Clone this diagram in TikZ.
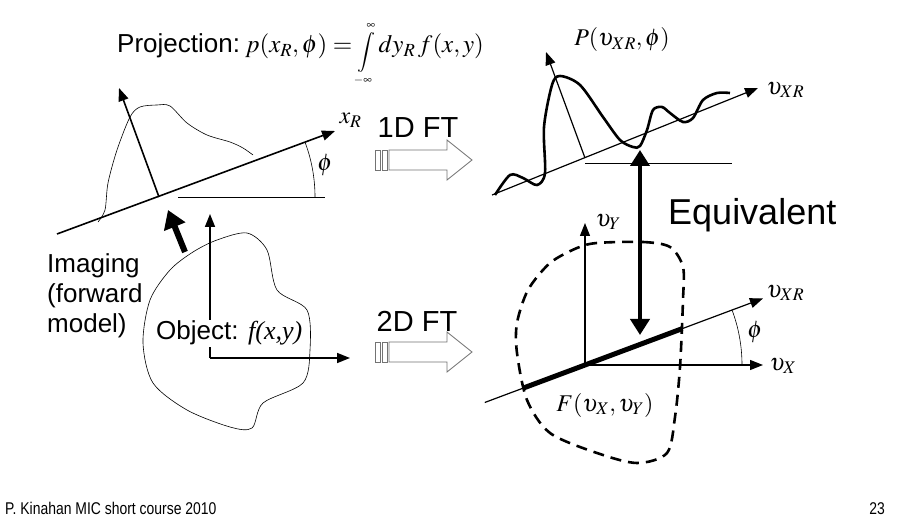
\documentclass[tikz,border=0pt]{standalone}
\usepackage{mathptmx}
\usepackage[no-math]{fontspec}
\setmainfont{Liberation Sans}
\newfontfamily\tms{Liberation Serif}
\usepackage{graphicx}
\usetikzlibrary{arrows.meta,calc}

\begin{document}
\begin{tikzpicture}[x=1pt,y=-1pt,
  txt/.style={font=\fontsize{26}{30}\selectfont},
  ftlab/.style={font=\fontsize{29}{34}\selectfont},
  mlab/.style={font=\fontsize{24}{28}\selectfont},
  axis/.style={line width=1.6pt,-{Triangle[length=13pt,width=10pt]}},
  thinaxis/.style={line width=1.2pt,-{Triangle[length=13pt,width=10pt]}},
  ftline/.style={draw=black!55,line width=0.8pt,fill=white},
  ftarrow/.pic={
    \draw[ftline] (0,-10) rectangle (5,10);
    \draw[ftline] (7,-10) rectangle (12,10);
    \draw[ftline] (14,-10) -- (72,-10) -- (72,-20) -- (97,0) -- (72,20) -- (72,10) -- (14,10) -- cycle;
  }]
  \useasboundingbox (0,0) rectangle (897,521);
  \node[txt,anchor=base west,inner sep=0pt] (proj) at (117,53) {Projection:};
  \node[font=\fontsize{25}{30}\selectfont,anchor=base west,inner sep=0pt] (eq) at (245,53)
    {$p(x_R,\phi)=\raisebox{-4pt}{\fontsize{20}{20}\selectfont$\displaystyle\int\limits_{\scriptscriptstyle-\infty}^{\scriptscriptstyle\infty}$}\,dy_R\,f(x,y)$};
  % projection side
  \coordinate (xa) at (57,234);
  \coordinate (xb) at (335,131);
  \coordinate (pf) at (159,197);
  \coordinate (pt) at (119,88);
  \coordinate (ha) at (178,197);
  \coordinate (hb) at (325,197);
  \draw[line width=0.6pt] plot[smooth] coordinates {(98,222) (105,210) (108,183) (117,150) (130,117) (140,107) (157,105) (170,106) (187,123) (207,135) (230,142) (243,148) (253,155)};
  \draw[axis] (xa) -- (xb);
  \draw[axis] (pf) -- (pt);
  \draw[line width=0.8pt] (ha) -- (hb);
  \draw[line width=0.6pt] ($(pf)+(0:156)$) arc[start angle=0,end angle=-20.3,radius=156];
  \node[mlab] (phiL) at (325,165) {$\phi$};
  \node[mlab,anchor=west] (xR) at (336,120) {$x_R$};
  \coordinate (ia) at (185,252);
  \coordinate (ib) at (168,210);
  \draw[line width=6pt,-{Triangle[length=18pt,width=22pt]}] (ia) -- (ib);
  \node[txt,align=left,anchor=north west,inner sep=0pt] (img) at (47,253) {Imaging\\(forward\\model)};
  % object
  \draw[line width=0.6pt] plot[smooth cycle] coordinates {(193,252) (217,240) (247,233) (267,250) (277,290) (307,310) (310,350) (303,383) (263,403) (252,428) (230,427) (187,410) (153,383) (143,343) (150,300) (170,270)};
  \coordinate (oo) at (210,358);
  \coordinate (oy) at (210,214);
  \coordinate (ox) at (350,358);
  \draw[axis] (oo) -- (oy);
  \draw[axis] (oo) -- (ox);
  \node[txt,fill=white,inner sep=1pt,anchor=base west] (obj) at (155,340) {Object: {\tms\itshape f(x,y)}};
  % transforms
  \node[ftlab,anchor=base] (ft1) at (418,138) {1D FT};
  \pic at (375,160) {ftarrow};
  \node[ftlab,anchor=base] (ft2) at (417,332) {2D FT};
  \pic at (375,352) {ftarrow};
  % fourier side, 1D
  \coordinate (ua) at (492,195);
  \coordinate (ub) at (758,88);
  \coordinate (uf) at (585,158);
  \coordinate (ut) at (546,52);
  \coordinate (hc) at (585,163);
  \coordinate (hd) at (732,163);
  \draw[thinaxis] (ua) -- (ub);
  \draw[thinaxis] (uf) -- (ut);
  \draw[line width=0.8pt] (hc) -- (hd);
  \draw[line width=2.6pt] plot[smooth] coordinates {(495,195) (510,175) (523,178) (537,185) (545,173) (544,127) (552,85) (560,76) (580,85) (603,117) (620,140) (633,147) (640,146) (647,130) (653,110) (662,107) (670,113) (683,122) (693,118) (703,100) (717,93) (730,93)};
  \node[mlab,anchor=west] (uxr1) at (763,90) {$\upsilon_{XR}$};
  \node[mlab] (P) at (622,40) {$P(\upsilon_{XR},\phi)$};
  \coordinate (ea) at (640,150);
  \coordinate (eb) at (640,335);
  \draw[line width=4.5pt,{Triangle[length=16pt,width=19pt]}-{Triangle[length=16pt,width=19pt]}] (ea) -- (eb);
  \node[font=\fontsize{36}{40}\selectfont,anchor=base west,inner sep=0pt] (eqv) at (668,225) {Equivalent};
  % fourier side, 2D
  \draw[line width=2.6pt,dash pattern=on 11pt off 7pt] plot[smooth cycle] coordinates {(597,243) (643,242) (670,247) (683,267) (683,300) (680,367) (675,417) (667,453) (637,463) (597,453) (550,433) (527,400) (517,353) (517,323) (528,290) (550,263) (577,248)};
  \coordinate (o) at (585,365);
  \coordinate (vy) at (585,223);
  \coordinate (vx) at (763,365);
  \coordinate (r0) at ($(o)+(159.5:107)$);
  \coordinate (r1) at ($(o)+(-20.5:190)$);
  \coordinate (s0) at ($(o)+(159.5:66)$);
  \coordinate (s1) at ($(o)+(-20.5:104)$);
  \draw[thinaxis] (o) -- (vy);
  \draw[thinaxis] (o) -- (vx);
  \draw[thinaxis] (r0) -- (r1);
  \draw[line width=5pt] (s0) -- (s1);
  \draw[line width=0.6pt] ($(o)+(0:157)$) arc[start angle=0,end angle=-20.5,radius=157];
  \node[mlab] (phiR) at (755,332) {$\phi$};
  \node[mlab,anchor=west] (uy) at (592,222) {$\upsilon_Y$};
  \node[mlab,anchor=west] (ux) at (766,366) {$\upsilon_X$};
  \node[mlab,anchor=west] (uxr2) at (763,293) {$\upsilon_{XR}$};
  \node[mlab] (F) at (605,405) {$F(\upsilon_X,\upsilon_Y)$};
  % footer
  \node[anchor=base west,inner sep=0pt] (foot) at (5,514) {\fontsize{17}{20}\selectfont\scalebox{0.82}[1]{P. Kinahan MIC short course 2010}};
  \node[anchor=base east,inner sep=0pt] (pg) at (885,514) {\fontsize{17}{20}\selectfont\scalebox{0.82}[1]{23}};
\end{tikzpicture}
\end{document}
